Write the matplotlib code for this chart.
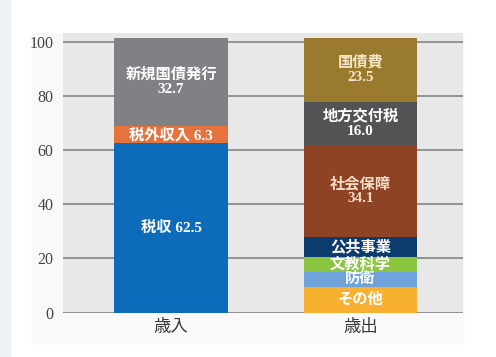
import matplotlib.pyplot as plt
from matplotlib.patches import Rectangle

plt.rcParams['font.family'] = ['Liberation Serif', 'Noto Sans CJK JP', 'DejaVu Sans']

# 歳入 (revenue) and 歳出 (expenditure) shares, bottom to top
revenue_labels = ['税収 62.5', '税外収入 6.3', '新規国債発行\n32.7']
revenue_values = [62.5, 6.3, 32.7]
revenue_colors = ['#0d6cb9', '#e5733d', '#808184']

spend_labels = ['その他', '防衛', '文教科学', '公共事業', '社会保障\n34.1', '地方交付税\n16.0', '国債費\n23.5']
spend_values = [9.6, 5.5, 5.6, 7.1, 34.1, 16.0, 23.5]
spend_colors = ['#f7b02f', '#6ea3dc', '#8cc540', '#0c3c6d', '#8d4324', '#525355', '#997a2f']
spend_text = ['white', 'white', 'white', 'white', '#f6dcc6', 'white', '#f5e5c4']

categories = ['歳入', '歳出']

fig = plt.figure(figsize=(4.96, 3.57), dpi=100)
fig.patch.set_facecolor('white')
# left side strip and the soft frame behind the chart
fig.add_artist(Rectangle((0, 0), 10 / 496, 1, transform=fig.transFigure,
                         color='#edf1f4', zorder=0))
fig.add_artist(Rectangle((32 / 496, 14 / 357), 431 / 496, 310 / 357,
                         transform=fig.transFigure, color='#f9f9f9', zorder=0))

ax = fig.add_axes([63 / 496, 44.3 / 357, 400 / 496, 279.7 / 357])
ax.set_facecolor('#e8e8e8')
ax.set_xlim(-0.57, 1.541)
ax.set_ylim(0, 103.2)

for y in range(0, 101, 20):
    ax.axhline(y, color='#8a8a8a', lw=1.3, zorder=1)

width = 0.60
stacks = [(0, revenue_values, revenue_colors, revenue_labels, ['white'] * 3),
          (1, spend_values, spend_colors, spend_labels, spend_text)]
for x, vals, cols, labs, tcols in stacks:
    bottom = 0
    for v, c, lab, tc in zip(vals, cols, labs, tcols):
        ax.bar(x, v, width, bottom=bottom, color=c, zorder=2)
        ax.text(x, bottom + v / 2, lab, ha='center', va='center', color=tc,
                fontsize=11, fontweight='bold', linespacing=1.1, zorder=3)
        bottom += v

ax.set_yticks(range(0, 101, 20))
ax.set_xticks([0, 1])
ax.set_xticklabels(categories, fontsize=12.5, color='#3a3a3a')
ax.tick_params(axis='y', length=0, pad=7, labelsize=11.5, labelcolor='#444444')
ax.tick_params(axis='x', length=0, pad=5)
for s in ax.spines.values():
    s.set_visible(False)

fig.savefig('out.png', dpi=100)
